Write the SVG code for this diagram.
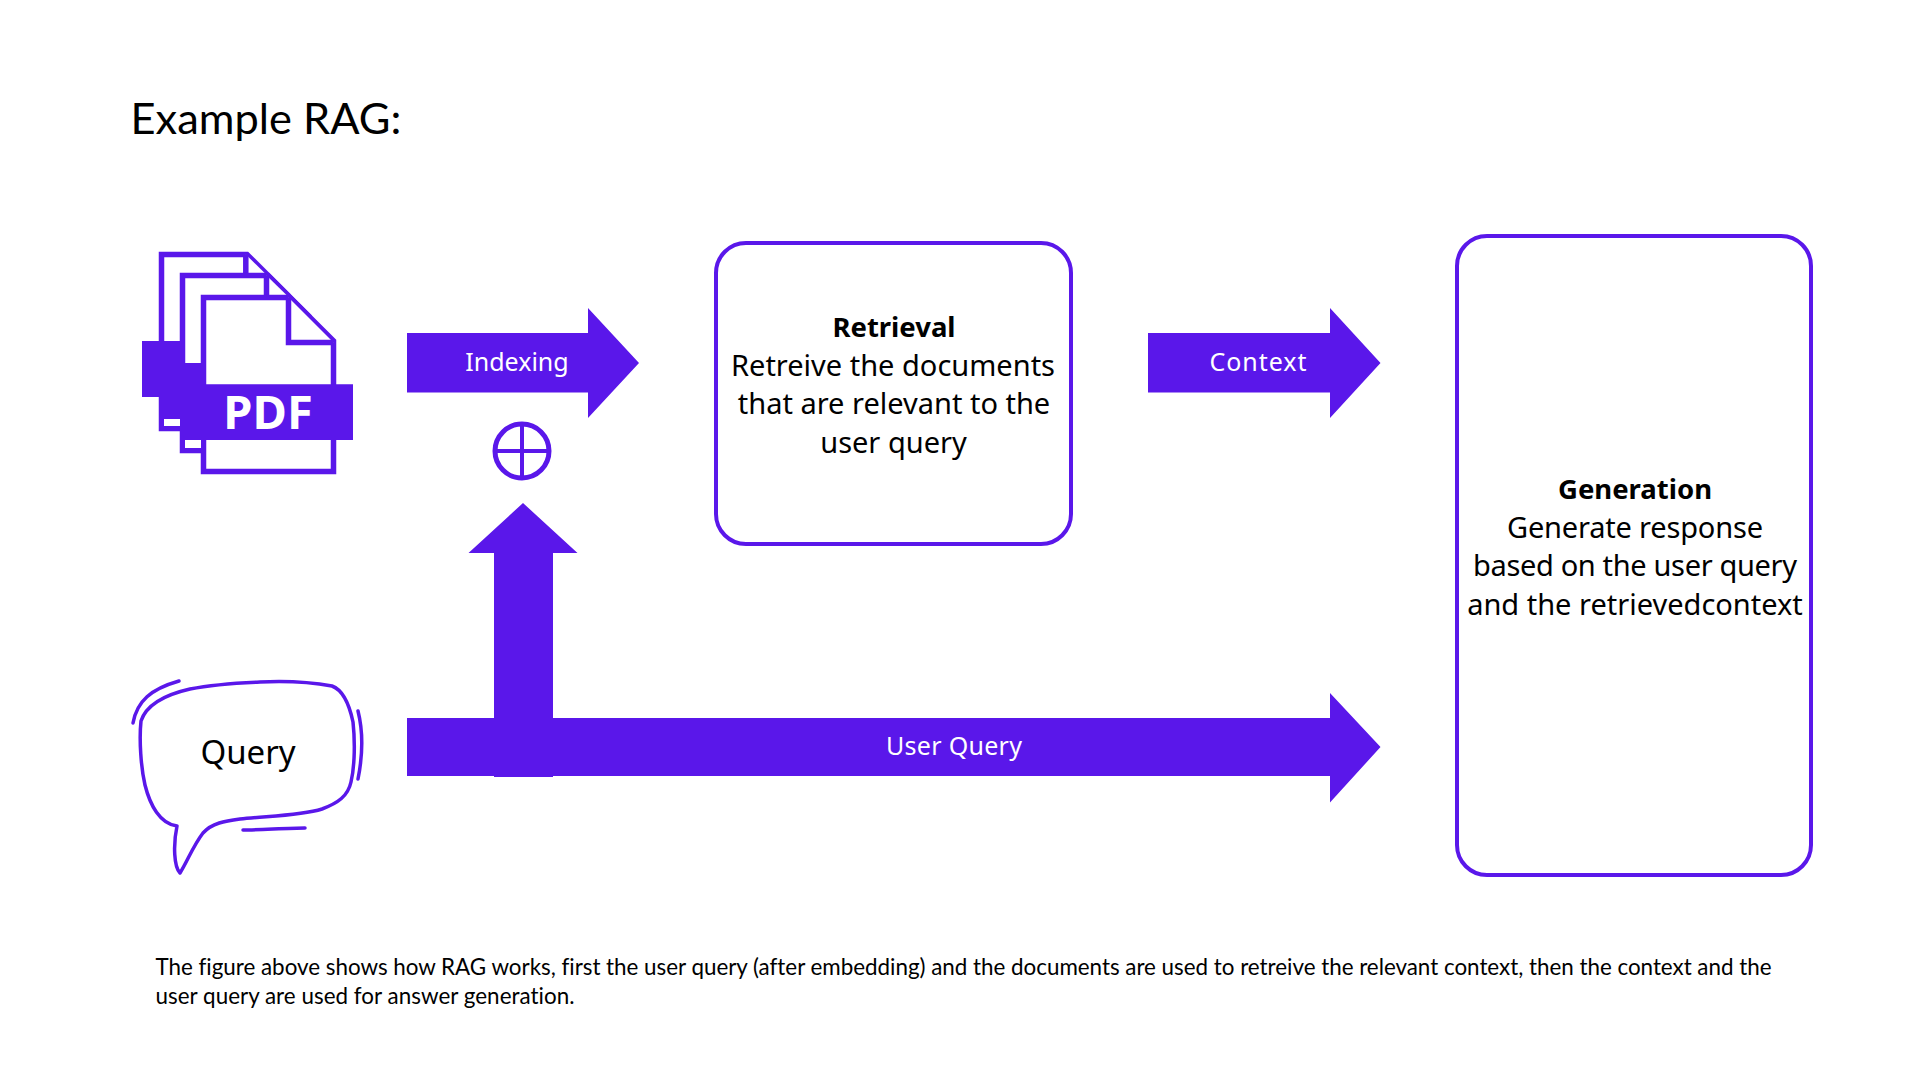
<svg xmlns="http://www.w3.org/2000/svg" width="1920" height="1080" viewBox="0 0 1920 1080">
<style>
.f{fill:#5a17ea}
.box{fill:#fff;stroke:#5a17ea;stroke-width:4}
.sk{fill:none;stroke:#5a17ea;stroke-width:3.500;stroke-linecap:round;stroke-linejoin:round}
text{font-family:"Noto Sans","Open Sans",sans-serif;text-anchor:middle}
.t{font-size:29px;fill:#000}
.b{font-weight:700;font-size:27.500px}
.w{font-size:25px;fill:#fff}
.c{font-family:Lato,"Liberation Sans",sans-serif;text-anchor:start;font-variant-ligatures:none}
.doc{fill:#fff;stroke:#5a17ea;stroke-width:5.500}
</style>
<rect width="1920" height="1080" fill="#fff"/>
<text class="c" x="130.500" y="134" font-size="43.400">Example RAG:</text>
<g id="pdf-documents">
<path class="doc" d="M161.500 254.500H247L288 295.500V428.500H161.500Z"/>
<path class="doc" d="M245.800 254.500V298H290"/>
<path class="doc" d="M182.500 275.500H268L309 316.500V450.500H182.500Z"/>
<path class="doc" d="M266.500 275.500V319H311"/>
<path class="doc" d="M203.500 297.500H290L333.500 341V471.500H203.500Z"/>
<path class="doc" d="M288.500 297.500V342.500H333.500"/>
<path class="f" d="M142 341H185V363H206V384.300H353V440H180V431H159V397H142Z"/>
<rect x="164" y="419" width="16" height="7" fill="#fff"/>
<rect x="185" y="440" width="16" height="8" fill="#fff"/>
<text x="268" y="429" font-size="47" font-weight="700" fill="#fff">PDF</text>
</g>
<g id="query">
<path class="sk" d="M177 826C173 845 174 867 180 873C187 862 193 846 203 833C212 823 225 821 240 819C265 816 300 816 322 809C338 803 348 796 351 782C355 765 355 740 353 722C349 703 343 690 332 686C310 682 280 681 260 682C235 683 210 685 190 689C168 694 147 703 141 721C139 740 141 768 145 785C150 805 160 824 177 826Z"/>
<path class="sk" d="M133 723C137 701 151 689 179 681"/>
<path class="sk" d="M358 711C364 735 362 759 358 779"/>
<path class="sk" d="M243 830C258 830 289 828 305 828"/>
<text x="248" y="764" font-size="33" fill="#000">Query</text>
</g>
<g id="connectors">
<path id="arrow-indexing" class="f" d="M407 333H588V308L639 363L588 418V392.500H407Z"/>
<path id="arrow-context" class="f" d="M1148 333H1330V308L1380.500 363L1330 418V392.500H1148Z"/>
<path id="arrow-user-query" class="f" d="M407 718H1330V693L1380.500 747L1330 802.500V776H407Z"/>
<path id="arrow-up" class="f" d="M494 777V553H468.500L523 503L577.500 553H553V777Z"/>
<text class="w" x="517" y="371">Indexing</text>
<text class="w" x="1258" y="371" textLength="97">Context</text>
<text class="w" x="954" y="755" textLength="136">User Query</text>
</g>
<g id="combine">
<circle cx="522" cy="451" r="27" fill="#fff" stroke="#5a17ea" stroke-width="5"/>
<path d="M522 424V478M495 451H549" stroke="#5a17ea" stroke-width="4" fill="none"/>
</g>
<g id="retrieval">
<rect class="box" x="716" y="243" width="355" height="301" rx="30"/>
<text class="t b" x="894" y="337">Retrieval</text>
<text class="t" x="893" y="376">Retreive the documents</text>
<text class="t" x="894" y="414">that are relevant to the</text>
<text class="t" x="893.500" y="453">user query</text>
</g>
<g id="generation">
<rect class="box" x="1457" y="236" width="354" height="639" rx="30"/>
<text class="t b" x="1635" y="499">Generation</text>
<text class="t" x="1635" y="538" textLength="256">Generate response</text>
<text class="t" x="1635" y="576" textLength="324">based on the user query</text>
<text class="t" x="1635" y="615">and the retrievedcontext</text>
</g>
<text class="c" x="155.500" y="975" font-size="22.400" textLength="1616">The figure above shows how RAG works, first the user query (after embedding) and the documents are used to retreive the relevant context, then the context and the</text>
<text class="c" x="155.500" y="1004" font-size="22.400" textLength="419">user query are used for answer generation.</text>
</svg>
